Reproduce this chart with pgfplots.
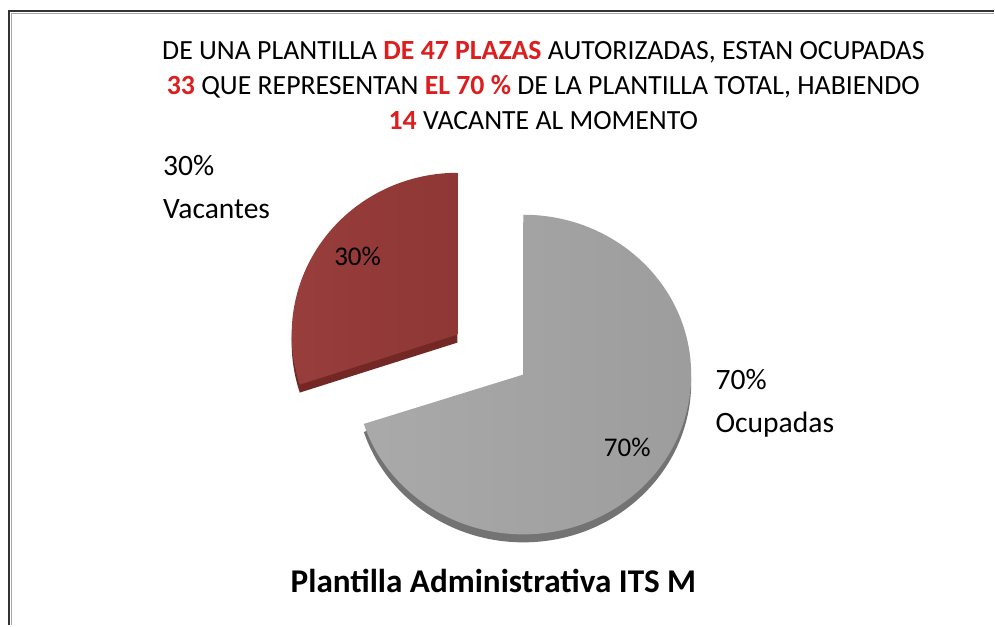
\documentclass[border=0pt]{standalone}
\usepackage{pgfplots}
\pgfplotsset{compat=1.18}
\usepackage{pgfplotstable}
\usepackage{fontspec}
\setmainfont{Carlito}
\definecolor{redslice}{RGB}{150,58,56}
\definecolor{redside}{RGB}{115,40,38}
\definecolor{grayslice}{RGB}{165,165,165}
\definecolor{grayside}{RGB}{115,115,115}
\definecolor{txtred}{RGB}{220,30,30}
\pgfplotstableread{
label value
Ocupadas 70
Vacantes 30
}\piedata
\pgfplotstablegetelem{0}{value}\of\piedata\let\vOcup\pgfplotsretval
\pgfplotstablegetelem{1}{value}\of\piedata\let\vVac\pgfplotsretval
\begin{document}
\begin{tikzpicture}
\begin{axis}[
  width=497.5pt, height=313pt, scale only axis,
  xmin=0, xmax=995, ymin=0, ymax=626,
  hide axis, clip=false,
]
\path (axis cs:0,0) rectangle (axis cs:995,626);
% frame
\draw[line width=1.2pt, black!80] (axis cs:9,0) -- (axis cs:9,615) -- (axis cs:995,615);
\draw[line width=0.5pt, black!35] (axis cs:12,0) -- (axis cs:12,612) -- (axis cs:995,612);
% angles
\pgfmathsetmacro{\gEnd}{90-3.6*\vOcup}
\pgfmathsetmacro{\rEnd}{90+3.6*\vVac}
% gray slice (side, then top)
\fill[grayside] ([yshift=-4pt]axis cs:524,251) -- ++(0pt,80pt) arc[start angle=90, end angle=\gEnd, x radius=84pt, y radius=80pt] -- cycle;
\shade[left color=grayslice!95!white, right color=grayslice!95!black] (axis cs:524,251) -- ++(0pt,80pt) arc[start angle=90, end angle=\gEnd, x radius=84pt, y radius=80pt] -- cycle;
% red slice
\fill[redside] ([yshift=-4pt]axis cs:458,291) -- ++(0pt,81pt) arc[start angle=90, end angle=\rEnd, x radius=83pt, y radius=81pt] -- cycle;
\shade[left color=redslice!98!white, right color=redslice!95!black] (axis cs:458,291) -- ++(0pt,81pt) arc[start angle=90, end angle=\rEnd, x radius=83pt, y radius=81pt] -- cycle;
% data labels
\node[font=\fontsize{13.5}{16}\selectfont] at (axis cs:358,369) {\vVac\%};
\node[font=\fontsize{13.5}{16}\selectfont] at (axis cs:628,178) {\vOcup\%};
% category labels
\node[anchor=north west, align=left, inner sep=0pt, font=\fontsize{14.8}{21.5}\selectfont] at (axis cs:163,471) {\vVac\%\\Vacantes};
\node[anchor=north west, align=left, inner sep=0pt, font=\fontsize{14.8}{21.5}\selectfont] at (axis cs:716,257) {\vOcup\%\\Ocupadas};
% title
\node[align=center, font=\fontsize{13.9}{17.5}\selectfont] at (axis cs:544,540) {DE UNA PLANTILLA \textcolor{txtred}{\textbf{DE 47 PLAZAS}} AUTORIZADAS, ESTAN OCUPADAS\\
\textcolor{txtred}{\textbf{33}} QUE REPRESENTAN \textcolor{txtred}{\textbf{EL 70 \%}} DE LA PLANTILLA TOTAL, HABIENDO\\
\textcolor{txtred}{\textbf{14}} VACANTE AL MOMENTO};
\node[font=\bfseries\fontsize{16.6}{20}\selectfont] at (axis cs:494,44) {Plantilla Administrativa ITS M};
\end{axis}
\end{tikzpicture}
\end{document}
